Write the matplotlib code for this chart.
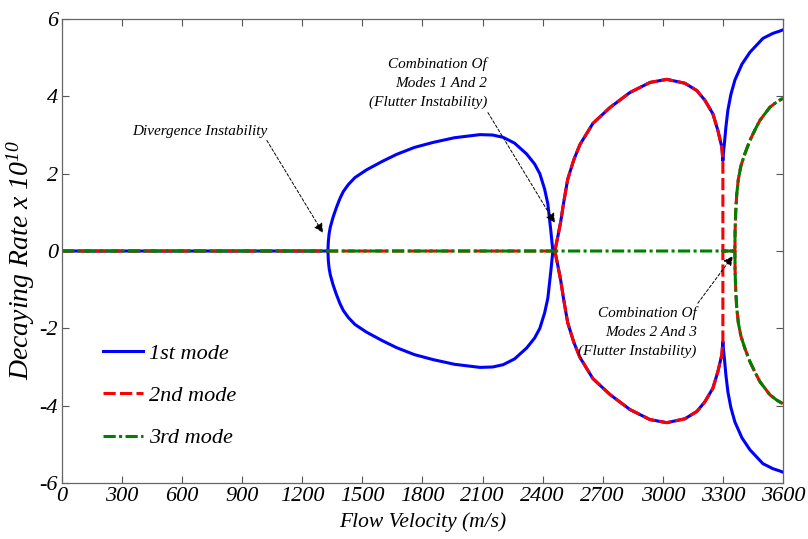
import numpy as np
import matplotlib
matplotlib.use("Agg")
import matplotlib.pyplot as plt

plt.rcParams["font.family"] = ["Liberation Serif", "DejaVu Serif"]
plt.rcParams["font.style"] = "italic"
plt.rcParams["mathtext.fontset"] = "custom"
plt.rcParams["mathtext.it"] = "Liberation Serif:italic"
plt.rcParams["mathtext.rm"] = "Liberation Serif:italic"
plt.rcParams["mathtext.default"] = "it"
plt.rcParams["axes.unicode_minus"] = False

# ---- data (upper branches; lower branches are mirrored) ----
# mode 1: divergence loop
loop1_v = [1328, 1330, 1334, 1340, 1354, 1370, 1388, 1405, 1430, 1463, 1521, 1600,
           1671, 1760, 1854, 1960, 2087, 2150, 2203, 2260, 2320, 2360, 2386, 2410,
           2426, 2441, 2451]
loop1_r = [0, 0.25, 0.45, 0.62, 0.88, 1.12, 1.36, 1.54, 1.72, 1.9, 2.1, 2.32,
           2.5, 2.68, 2.81, 2.93, 3.01, 3.0, 2.94, 2.79, 2.51, 2.25, 2.0, 1.6,
           1.22, 0.52, 0]

# modes 1+2 coupled loop
loop12_v = [2461, 2475, 2490, 2505, 2525, 2555, 2586, 2651, 2736, 2836, 2936, 3020,
            3110, 3170, 3210, 3250, 3275, 3295, 3300]
loop12_r = [0, 0.35, 0.75, 1.25, 1.85, 2.35, 2.75, 3.3, 3.71, 4.1, 4.36, 4.44,
            4.34, 4.15, 3.9, 3.55, 3.12, 2.68, 2.34]

# mode 1 after the cusp at 3300 m/s
tail1_v = [3300, 3303, 3308, 3315, 3325, 3340, 3360, 3395, 3435, 3500, 3550, 3585, 3600]
tail1_r = [2.34, 2.55, 2.8, 3.2, 3.64, 4.05, 4.42, 4.83, 5.14, 5.5, 5.63, 5.69, 5.72]

# modes 2+3 coupled branch
drop2_v = [3300, 3300, 3360]
drop2_r = [2.34, 0, 0]
loop23_v = [3360, 3361, 3364, 3369, 3377, 3390, 3410, 3435, 3460, 3485, 3535, 3570, 3600]
loop23_r = [0, 0.5, 1.0, 1.45, 1.85, 2.2, 2.52, 2.86, 3.13, 3.38, 3.72, 3.86, 3.95]

# zero real part up to the onset of each branch
zero1_v = [0, 1328]
zero2_v = [0, 2461]
zero3_v = [0, 3360]


def mode_line(zero_v, up_v, up_r):
    x = list(zero_v) + list(up_v) + [np.nan] + list(up_v)
    y = [0] * len(zero_v) + list(up_r) + [np.nan] + [-r for r in up_r]
    return np.array(x, float), np.array(y, float)


x1, y1 = mode_line(zero1_v, loop1_v + loop12_v + tail1_v, loop1_r + loop12_r + tail1_r)
x2, y2 = mode_line(zero2_v, loop12_v + drop2_v + loop23_v, loop12_r + drop2_r + loop23_r)
x3, y3 = mode_line(zero3_v, loop23_v, loop23_r)

fig = plt.figure(figsize=(8.08, 5.39), dpi=100)
ax = fig.add_axes([0.0767, 0.1039, 0.8923, 0.8608])

ax.plot(x1, y1, color="#0000ff", lw=2.2, label="1st mode")
ax.plot(x2, y2, color="#ff0000", lw=2.2, dashes=(4, 1.4), label="2nd mode")
ax.plot(x3, y3, color="#008000", lw=2.2, dashes=(4, 1.1, 1, 1.1), label="3rd mode")

ax.set_xlim(0, 3600)
ax.set_ylim(-6, 6)
ax.set_xticks(np.arange(0, 3601, 300))
ax.set_yticks(np.arange(-6, 7, 2))
ax.tick_params(direction="in", top=True, right=True, length=5, width=0.8,
               color="#555555", labelsize=16, pad=3)
for s in ax.spines.values():
    s.set_color("#666666")
    s.set_linewidth(0.9)

ax.set_xlabel("Flow Velocity (m/s)", fontsize=15.5)
ax.set_ylabel(r"Decaying Rate x 10$^{10}$", fontsize=20)
ax.xaxis.set_label_coords(0.5, -0.063)
ax.yaxis.set_label_coords(-0.035, 0.48)

# annotations
arrow = dict(arrowstyle="-|>", linestyle=(0, (3, 2)), lw=0.7, color="k",
             mutation_scale=14, shrinkA=0, shrinkB=0)
ax.text(689, 3.09, "Divergence Instability", fontsize=11, ha="center", va="center")
ax.annotate("", xy=(1303, 0.47), xytext=(1023, 2.86), arrowprops=arrow)

ax.text(2122, 4.34, "Combination Of\nModes 1 And 2\n(Flutter Instability)", fontsize=11,
        ha="right", va="center", multialignment="right", linespacing=1.55)
ax.annotate("", xy=(2461, 0.73), xytext=(2127, 3.58), arrowprops=arrow)

ax.text(3170, -2.10, "Combination Of\nModes 2 And 3\n(Flutter Instability)", fontsize=11,
        ha="right", va="center", multialignment="right", linespacing=1.55)
ax.annotate("", xy=(3350, -0.13), xytext=(3175, -1.35), arrowprops=arrow)

ax.legend(loc="center left", bbox_to_anchor=(0.057, 0.188), frameon=False, fontsize=16,
          handlelength=1.8, handletextpad=0.25, labelspacing=0.98, borderpad=0,
          borderaxespad=0)

fig.savefig("out.png", dpi=100)
